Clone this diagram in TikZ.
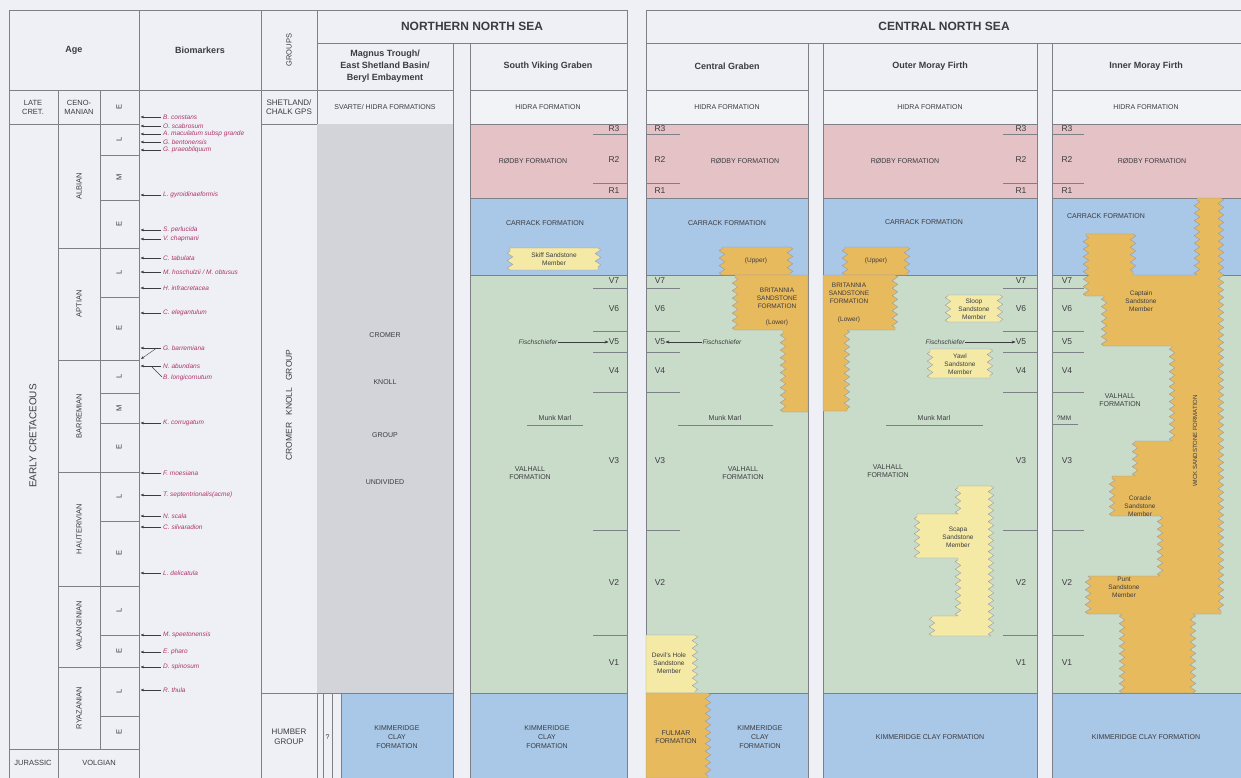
\documentclass[tikz,border=0pt]{standalone}
\usepackage{fontspec}
\setmainfont{Liberation Sans}
\usetikzlibrary{decorations.pathmorphing,arrows.meta}
\definecolor{paper}{HTML}{EEF0F5}
\definecolor{hidrac}{HTML}{F2F3F7}
\definecolor{pinkc}{HTML}{E4C2C6}
\definecolor{bluec}{HTML}{A9C7E6}
\definecolor{greenc}{HTML}{C9DCCA}
\definecolor{orangec}{HTML}{E8BA5E}
\definecolor{yellowc}{HTML}{F4EAA6}
\definecolor{grayc}{HTML}{D3D4D9}
\definecolor{linec}{HTML}{7E8088}
\definecolor{txt}{HTML}{3C3C40}
\definecolor{bioc}{HTML}{B0336C}
\newcommand\stratcol[2]{%
  \fill[hidrac] (#1,90) rectangle (#2,124);
  \fill[pinkc] (#1,124) rectangle (#2,198);
  \fill[bluec] (#1,198) rectangle (#2,275);
  \fill[greenc] (#1,275) rectangle (#2,693);
  \fill[bluec] (#1,693) rectangle (#2,778);
  \draw[grid] (#1,43) -- (#1,778) (#2,43) -- (#2,778);
  \foreach \yy in {90,124,198,275,693} {\draw[grid] (#1,\yy) -- (#2,\yy);}
}
\newcommand\zonelines[2]{\foreach \yy in {134,183,288,331,352,392,530,635} {\draw[grid] (#1,\yy) -- (#2,\yy);}}
\newcommand\zonelabels[3]{\foreach \t/\yy in {#3} {\node[zone] (#2\t) at (#1,\yy) {\t};}}
\begin{document}
\begin{tikzpicture}[x=1pt,y=-1pt,
  grid/.style={draw=linec,line width=0.5pt},
  ftx/.style={font=\fontsize{7}{8.6}\selectfont,text=txt,align=center,inner sep=0pt},
  mtx/.style={font=\fontsize{6.5}{7.8}\selectfont,text=txt,align=center,inner sep=0pt},
  zone/.style={font=\fontsize{8.5}{9}\selectfont,text=txt,inner sep=0pt},
  hdr/.style={font=\bfseries\fontsize{9}{12}\selectfont,text=txt,align=center,inner sep=0pt},
  bighdr/.style={font=\bfseries\fontsize{12}{14}\selectfont,text=txt,inner sep=0pt},
  agetx/.style={font=\fontsize{7.5}{9}\selectfont,text=txt,align=center,inner sep=0pt},
  bio/.style={font=\itshape\fontsize{6.5}{7}\selectfont,text=bioc,anchor=west,inner sep=0pt},
  bioarrow/.style={draw=txt,line width=0.4pt,-{Stealth[length=3.5pt,width=2.6pt]}},
  fisch/.style={font=\itshape\fontsize{6.6}{7.5}\selectfont,text=txt,inner sep=0pt},
  fischarrow/.style={draw=txt,line width=0.45pt,-{Stealth[length=4pt,width=3pt]}},
  zz/.style={decoration={zigzag,segment length=7.5pt,amplitude=2.8pt}},
  sand/.style={fill=orangec,draw=linec!80,line width=0.4pt,zz},
  ysand/.style={fill=yellowc,draw=linec!80,line width=0.4pt,zz},
]
\useasboundingbox (0,0) rectangle (1241,778);
\fill[paper] (0,0) rectangle (1241,778);

% ---------- Age / biomarker / group grid ----------
\draw[grid] (9,10) -- (9,778);
\draw[grid] (58,90) -- (58,778);
\draw[grid] (100,90) -- (100,749);
\draw[grid] (139,10) -- (139,778);
\draw[grid] (261,10) -- (261,778);
\draw[grid] (317,10) -- (317,778);
\draw[grid] (627,10) -- (627,778);
\draw[grid] (646,10) -- (646,778);
\draw[grid] (9,10) -- (627,10);
\draw[grid] (646,10) -- (1241,10);
\draw[grid] (317,43) -- (627,43);
\draw[grid] (646,43) -- (1241,43);
\draw[grid] (9,90) -- (453,90);
\draw[grid] (9,124) -- (139,124);
\draw[grid] (261,124) -- (453,124);
\draw[grid] (9,749) -- (58,749);
\foreach \yy in {248,360,472,586,667,749} {\draw[grid] (58,\yy) -- (139,\yy);}
\foreach \yy in {155,200,297,393,423,521,635,716} {\draw[grid] (100,\yy) -- (139,\yy);}

% ---------- Magnus column ----------
\fill[grayc] (317,124) rectangle (453,693);
\fill[bluec] (341,693) rectangle (453,778);
\draw[grid] (261,693) -- (453,693);
\draw[grid] (453,43) -- (453,778);
\draw[grid] (323,693) -- (323,778) (332,693) -- (332,778) (341,693) -- (341,778);

% ---------- stratigraphic columns ----------
\stratcol{470}{627}
\stratcol{646}{808}
\stratcol{823}{1037}
\stratcol{1052}{1241}

\zonelines{593}{627}
\zonelines{646}{680}
\zonelines{1003}{1037}
\zonelines{1052}{1084}
\draw[grid] (1052,424) -- (1078,424);

% ---------- sandstone bodies ----------
% South Viking Graben: Skiff
\path[ysand] (510,248) -- (598,248) decorate{-- (598,270)} -- (510,270) decorate{-- (510,248)} -- cycle;
% Central Graben: Britannia
\path[sand] (722,247) -- (790,247) decorate{-- (790,275)} -- (722,275) decorate{-- (722,247)} -- cycle;
\path[sand] (735,275) -- (808,275) -- (808,412) -- (783,412) decorate{-- (783,330)} -- (735,330) decorate{-- (735,275)} -- cycle;
% Central Graben: Devil's Hole, Fulmar
\path[ysand] (646,635) -- (695,635) decorate{-- (695,693)} -- (646,693) -- cycle;
\path[sand] (646,693) -- (708,693) decorate{-- (708,778)} -- (646,778) -- cycle;
% Outer Moray Firth: Britannia
\path[sand] (845,247) -- (907,247) decorate{-- (907,275)} -- (845,275) decorate{-- (845,247)} -- cycle;
\path[sand] (823,275) -- (895,275) decorate{-- (895,330)} -- (847,330) decorate{-- (847,411)} -- (823,411) -- cycle;
% Outer Moray Firth: Sloop, Yawl, Scapa
\path[ysand] (948,295) -- (1000,295) decorate{-- (1000,322)} -- (948,322) decorate{-- (948,295)} -- cycle;
\path[ysand] (930,349) -- (990,349) decorate{-- (990,378)} -- (930,378) decorate{-- (930,349)} -- cycle;
\path[ysand] (958,486) -- (991,486) decorate{-- (991,636)} -- (932,636) decorate{-- (932,616)} -- (958,616) decorate{-- (958,558)} -- (917,558) decorate{-- (917,514)} -- (958,514) decorate{-- (958,486)} -- cycle;
% Inner Moray Firth: Wick, Captain, Coracle, Punt
\path[sand] (1197,198) -- (1221,198) decorate{-- (1221,614)} -- (1193,614) decorate{-- (1193,693)} -- (1122,693) decorate{-- (1122,614)} -- (1088,614) decorate{-- (1088,576)} -- (1160,576) decorate{-- (1160,516)} -- (1112,516) decorate{-- (1112,476)} -- (1135,476) decorate{-- (1135,441)} -- (1172,441) decorate{-- (1172,346)} -- (1104,346) decorate{-- (1104,296)} -- (1086,296) decorate{-- (1086,234)} -- (1133,234) decorate{-- (1133,275)} -- (1197,275) decorate{-- (1197,198)} -- cycle;

% ---------- headers ----------
\node[hdr] (hage) at (74,50) {Age};
\node[hdr] (hbio) at (200,50) {Biomarkers};
\node[agetx,rotate=90] (hgrp) at (289,50) {GROUPS};
\node[bighdr] (hnns) at (472,26) {NORTHERN NORTH SEA};
\node[bighdr] (hcns) at (944,26) {CENTRAL NORTH SEA};
\node[hdr] (hmag) at (385,66) {Magnus Trough/\\East Shetland Basin/\\Beryl Embayment};
\node[hdr] (hsvg) at (548,66) {South Viking Graben};
\node[hdr] (hcg) at (727,66) {Central Graben};
\node[hdr] (homf) at (930,66) {Outer Moray Firth};
\node[hdr] (himf) at (1146,66) {Inner Moray Firth};

% ---------- age column ----------
\node[agetx] (alc) at (33,107) {LATE\\CRET.};
\node[agetx] (acen) at (79,107) {CENO-\\MANIAN};
\node[agetx,rotate=90,font=\fontsize{10}{11}\selectfont] (aec) at (33,436) {EARLY CRETACEOUS};
\node[agetx] (ajur) at (33,763) {JURASSIC};
\node[agetx] (avol) at (99,763) {VOLGIAN};
\foreach \t/\yy [count=\k] in {ALBIAN/186,APTIAN/304,BARREMIAN/416,HAUTERIVIAN/529,VALANGINIAN/626,RYAZANIAN/708}
  {\node[agetx,rotate=90] (ast\k) at (79,\yy) {\t};}
\foreach \t/\yy [count=\k] in {E/107,L/139,M/177,E/224,L/272,E/328,L/376,M/408,E/447,L/496,E/553,L/610,E/651,L/691,E/732}
  {\node[agetx,rotate=90] (asb\k) at (119,\yy) {\t};}

% ---------- biomarkers ----------
\foreach \nm/\yy [count=\i] in {B. constans/117, O. scabrosum/126, A. maculatum subsp grande/134, G. bentonensis/142, G. praeobliquum/150, L. gyroidinaeformis/195, S. perlucida/230, V. chapmani/239, C. tabulata/258, {M. hoschulzii / M. obtusus}/272, H. infracretacea/288, C. elegantulum/313, G. barremiana/348, N. abundans/366, K. corrugatum/423, F. moesiana/473, {T. septentrionalis(acme)}/495, N. scala/516, C. silvaradion/527, L. delicatula/573, M. speetonensis/635, E. pharo/652, D. spinosum/667, R. thula/690}
{
  \node[bio] (bm\i) at (163,\yy) {\nm};
  \coordinate (bt\i) at (140.5,\yy);
  \draw[bioarrow,shorten <=2pt] (bm\i.west) -- (bt\i);
}
\node[bio] (bmL) at (163,378) {B. longicornutum};
\coordinate (bjn) at (152,367);
\draw[draw=txt,line width=0.4pt,shorten <=1.5pt] (bmL.west) -- (bjn);
\coordinate (bbs) at (156,348.5);
\coordinate (bbe) at (141,359);
\draw[bioarrow] (bbs) -- (bbe);

% ---------- groups column ----------
\node[agetx,font=\fontsize{8}{9.5}\selectfont] (gshet) at (289,107) {SHETLAND/\\CHALK GPS};
\node[agetx,rotate=90,font=\fontsize{8.5}{9}\selectfont] (gck) at (289,405) {CROMER\ \ \ KNOLL\ \ \ GROUP};
\node[agetx,font=\fontsize{8}{9.5}\selectfont] (ghum) at (289,737) {HUMBER\\GROUP};

% ---------- Magnus texts ----------
\node[ftx] (msv) at (385,107) {SVARTE/ HIDRA FORMATIONS};
\node[ftx] (mcr) at (385,335) {CROMER};
\node[ftx] (mkn) at (385,382) {KNOLL};
\node[ftx] (mgr) at (385,435) {GROUP};
\node[ftx] (mun) at (385,482) {UNDIVIDED};
\node[ftx] (mq) at (327.5,737) {?};
\node[ftx] (mkc) at (397,737) {KIMMERIDGE\\CLAY\\FORMATION};

% ---------- South Viking Graben ----------
\node[ftx] (shid) at (548,107) {HIDRA FORMATION};
\node[ftx] (srod) at (533,161) {RØDBY FORMATION};
\node[ftx] (scar) at (545,223) {CARRACK FORMATION};
\node[mtx] (sski) at (554,259) {Skiff Sandstone\\Member};
\node[ftx] (sval) at (530,473) {VALHALL\\FORMATION};
\node[ftx] (smm) at (555,418) {Munk Marl};
\draw[grid] (527,425) -- (583,425);
\node[ftx] (skc) at (547,737) {KIMMERIDGE\\CLAY\\FORMATION};
\zonelabels{614}{s}{R3/129,R2/160,R1/191,V7/281,V6/309,V5/342,V4/371,V3/461,V2/583,V1/663}
\node[fisch] (sfi) at (538,342) {Fischschiefer};
\draw[fischarrow] (sfi.east) -- (sV5.west);

% ---------- Central Graben ----------
\node[ftx] (chid) at (727,107) {HIDRA FORMATION};
\node[ftx] (crod) at (745,161) {RØDBY FORMATION};
\node[ftx] (ccar) at (727,223) {CARRACK FORMATION};
\node[mtx] (cup) at (756,261) {(Upper)};
\node[mtx] (cbri) at (777,298) {BRITANNIA\\SANDSTONE\\FORMATION};
\node[mtx] (clo) at (777,323) {(Lower)};
\node[ftx] (cmm) at (725,418) {Munk Marl};
\draw[grid] (678,425) -- (773,425);
\node[ftx] (cval) at (743,473) {VALHALL\\FORMATION};
\node[mtx] (cdh) at (669,663) {Devil's Hole\\Sandstone\\Member};
\node[ftx] (cful) at (676,737) {FULMAR\\FORMATION};
\node[ftx] (ckc) at (760,737) {KIMMERIDGE\\CLAY\\FORMATION};
\zonelabels{660}{c}{R3/129,R2/160,R1/191,V7/281,V6/309,V5/342,V4/371,V3/461,V2/583}
\node[fisch] (cfi) at (722,342) {Fischschiefer};
\draw[fischarrow] (cfi.west) -- (cV5.east);

% ---------- Outer Moray Firth ----------
\node[ftx] (ohid) at (930,107) {HIDRA FORMATION};
\node[ftx] (orod) at (905,161) {RØDBY FORMATION};
\node[ftx] (ocar) at (924,222) {CARRACK FORMATION};
\node[mtx] (oup) at (876,261) {(Upper)};
\node[mtx] (obri) at (849,293) {BRITANNIA\\SANDSTONE\\FORMATION};
\node[mtx] (olo) at (849,320) {(Lower)};
\node[mtx] (oslo) at (974,309) {Sloop\\Sandstone\\Member};
\node[mtx] (oyaw) at (960,364) {Yawl\\Sandstone\\Member};
\node[ftx] (omm) at (934,418) {Munk Marl};
\draw[grid] (886,425) -- (983,425);
\node[ftx] (oval) at (888,471) {VALHALL\\FORMATION};
\node[mtx] (osca) at (958,537) {Scapa\\Sandstone\\Member};
\node[ftx] (okc) at (930,737) {KIMMERIDGE CLAY FORMATION};
\zonelabels{1021}{o}{R3/129,R2/160,R1/191,V7/281,V6/309,V5/342,V4/371,V3/461,V2/583,V1/663}
\node[fisch] (ofi) at (945,342) {Fischschiefer};
\draw[fischarrow] (ofi.east) -- (oV5.west);

% ---------- Inner Moray Firth ----------
\node[ftx] (ihid) at (1146,107) {HIDRA FORMATION};
\node[ftx] (irod) at (1152,161) {RØDBY FORMATION};
\node[ftx] (icar) at (1106,216) {CARRACK FORMATION};
\node[mtx] (icap) at (1141,301) {Captain\\Sandstone\\Member};
\node[ftx] (ival) at (1120,400) {VALHALL\\FORMATION};
\node[mtx,font=\fontsize{6}{7}\selectfont,rotate=90] (iwick) at (1195,441) {WICK SANDSTONE FORMATION};
\node[mtx] (icor) at (1140,506) {Coracle\\Sandstone\\Member};
\node[mtx] (ipun) at (1124,587) {Punt\\Sandstone\\Member};
\node[ftx] (ikc) at (1146,737) {KIMMERIDGE CLAY FORMATION};
\zonelabels{1067}{i}{R3/129,R2/160,R1/191,V7/281,V6/309,V5/342,V4/371,V3/461,V2/583,V1/663}
\node[zone,font=\fontsize{6.5}{7}\selectfont] (imm) at (1064,418) {?MM};
\end{tikzpicture}
\end{document}
